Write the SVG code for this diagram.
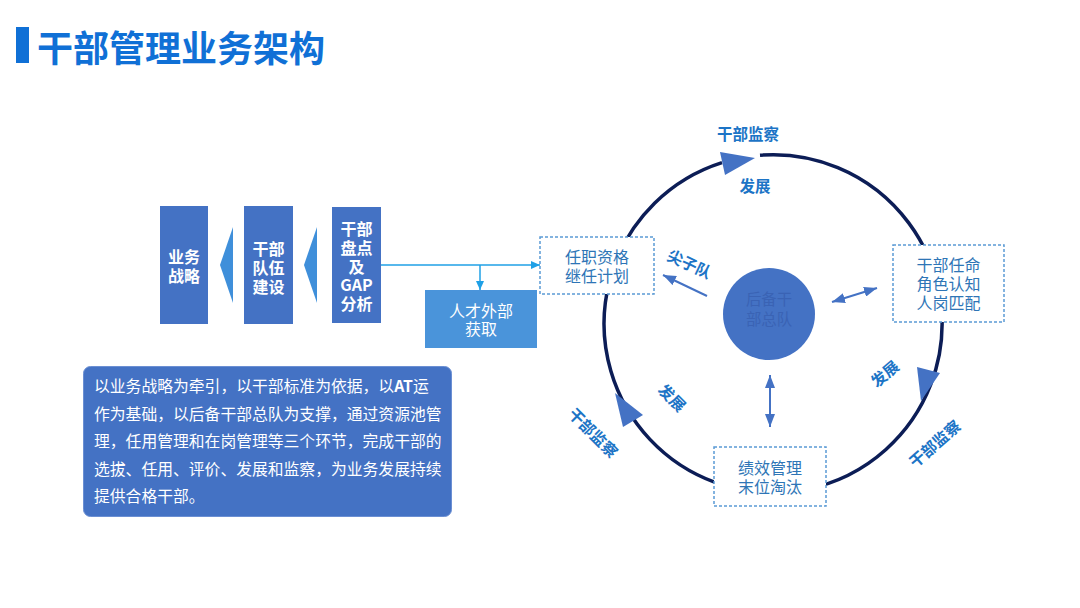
<svg xmlns="http://www.w3.org/2000/svg" width="1080" height="608" viewBox="0 0 1080 608">
<defs>
<style>
text{font-family:"Noto Sans CJK SC","Noto Sans",sans-serif;}
.ttl{font-size:36px;font-weight:bold;fill:#1070d6;}
.wb{font-size:16px;font-weight:bold;fill:#ffffff;text-anchor:middle;dominant-baseline:central;}
.wn{font-size:16px;fill:#ffffff;text-anchor:middle;dominant-baseline:central;}
.bt{font-size:16px;fill:#2e75b6;text-anchor:middle;dominant-baseline:central;}
.lab{font-size:15.5px;font-weight:bold;fill:#1c74c6;text-anchor:middle;dominant-baseline:central;}
.para{font-size:15.8px;fill:#ffffff;dominant-baseline:central;}
.dbox{fill:#ffffff;stroke:#5b9bd5;stroke-width:1.5;stroke-dasharray:3 2;}
.solid{fill:#4472c4;}
.chev{fill:#3f8fda;}
.flow{stroke:#1fa0e6;stroke-width:1.5;fill:none;}
.dbl{stroke:#4472c4;stroke-width:2;fill:none;}
.ring{stroke:#0c1d56;stroke-width:3.5;fill:none;}
.ah{fill:#4472c4;}
</style>
<marker id="mflow" markerUnits="userSpaceOnUse" markerWidth="9" markerHeight="8" refX="9" refY="4" orient="auto-start-reverse"><path d="M0,0 L9,4 L0,8 z" fill="#1fa0e6"/></marker>
<marker id="mdbl" markerUnits="userSpaceOnUse" markerWidth="13" markerHeight="10" refX="13" refY="5" orient="auto-start-reverse"><path d="M0,0 L13,5 L0,10 z" fill="#4472c4"/></marker>
</defs>
<rect width="1080" height="608" fill="#ffffff"/>

<g id="title">
<rect x="16" y="27" width="13" height="36" fill="#1070d6"/>
<text class="ttl" x="37" y="46" dominant-baseline="central">干部管理业务架构</text>
</g>

<g id="connectors">
<path class="ring" d="M 760 155.2 A 169 169 0 1 1 722 162.6"/>
<polygon class="ah" points="720,152 725,175 755,158"/>
<polygon class="ah" points="917,367 940,373 921,401"/>
<polygon class="ah" points="615,393 643,415 623,427"/>
<polygon class="chev" points="220,265 233,227 233,303"/>
<polygon class="chev" points="304,265 317,227 317,303"/>
<line class="flow" x1="381" y1="265" x2="540" y2="265" marker-end="url(#mflow)"/>
<line class="flow" x1="480" y1="265" x2="480" y2="290" marker-end="url(#mflow)"/>
<line class="dbl" x1="707" y1="296" x2="663" y2="275" marker-end="url(#mdbl)"/>
<line class="dbl" x1="832" y1="302" x2="877" y2="288" marker-start="url(#mdbl)" marker-end="url(#mdbl)"/>
<line class="dbl" x1="770" y1="375" x2="770" y2="427" marker-start="url(#mdbl)" marker-end="url(#mdbl)"/>
</g>

<g id="node-strategy">
<rect class="solid" x="160" y="206" width="48" height="118"/>
<text class="wb"><tspan x="184" y="256">业务</tspan><tspan x="184" y="275">战略</tspan></text>
</g>
<g id="node-team">
<rect class="solid" x="244" y="206" width="49" height="118"/>
<text class="wb"><tspan x="268.5" y="248">干部</tspan><tspan x="268.5" y="267">队伍</tspan><tspan x="268.5" y="286">建设</tspan></text>
</g>
<g id="node-gap">
<rect class="solid" x="332" y="207" width="49" height="116"/>
<text class="wb"><tspan x="356.5" y="228">干部</tspan><tspan x="356.5" y="247">盘点</tspan><tspan x="356.5" y="265.5">及</tspan><tspan x="356.5" y="284">GAP</tspan><tspan x="356.5" y="302.5">分析</tspan></text>
</g>
<g id="node-external">
<rect x="425" y="290" width="112" height="58" fill="#4a94da"/>
<text class="wn"><tspan x="481" y="310">人才外部</tspan><tspan x="481" y="328">获取</tspan></text>
</g>

<g id="node-desc">
<rect x="83.5" y="366.5" width="368" height="150" rx="7" fill="#4472c4" stroke="#6b8fd3" stroke-width="1"/>
<text class="para"><tspan x="94" y="385">以业务战略为牵引，以干部标准为依据，以</tspan><tspan font-weight="bold">AT</tspan><tspan>运</tspan><tspan x="94" y="413">作为基础，以后备干部总队为支撑，通过资源池管</tspan><tspan x="94" y="440">理，任用管理和在岗管理等三个环节，完成干部的</tspan><tspan x="94" y="468">选拔、任用、评价、发展和监察，为业务发展持续</tspan><tspan x="94" y="495">提供合格干部。</tspan></text>
</g>

<g id="node-qualify">
<rect class="dbox" x="540" y="237" width="114" height="57"/>
<text class="bt"><tspan x="597" y="256">任职资格</tspan><tspan x="597" y="275">继任计划</tspan></text>
</g>
<g id="node-appoint">
<rect class="dbox" x="893" y="245" width="111" height="77"/>
<text class="bt"><tspan x="948.5" y="264">干部任命</tspan><tspan x="948.5" y="283">角色认知</tspan><tspan x="948.5" y="302">人岗匹配</tspan></text>
</g>
<g id="node-perf">
<rect class="dbox" x="714" y="447" width="112" height="59"/>
<text class="bt"><tspan x="770" y="467">绩效管理</tspan><tspan x="770" y="486">末位淘汰</tspan></text>
</g>
<g id="node-reserve">
<circle cx="769" cy="314" r="46" fill="#4472c4"/>
<text font-size="15.4" fill="#3a63b4" text-anchor="middle" dominant-baseline="central"><tspan x="769" y="298">后备干</tspan><tspan x="769" y="318">部总队</tspan></text>
</g>

<g id="labels">
<text class="lab" x="748" y="133">干部监察</text>
<text class="lab" x="755" y="185">发展</text>
<text class="lab" transform="translate(690,263) rotate(25)">尖子队</text>
<text class="lab" transform="translate(884,373) rotate(-40)">发展</text>
<text class="lab" transform="translate(934,443) rotate(-41)">干部监察</text>
<text class="lab" transform="translate(673,397) rotate(45)">发展</text>
<text class="lab" transform="translate(594,432) rotate(45)">干部监察</text>
</g>
</svg>
